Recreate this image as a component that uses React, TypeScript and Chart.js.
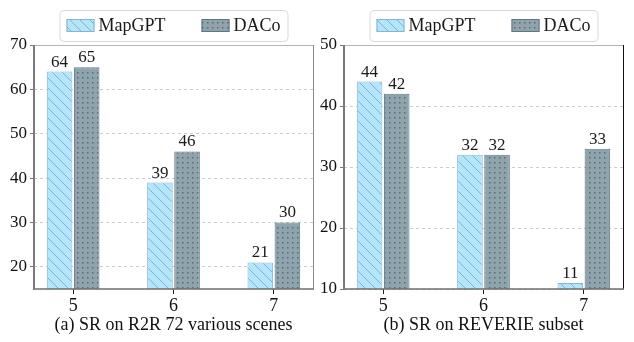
import React, { useEffect, useRef } from 'react';
import { Chart, registerables } from 'chart.js';

Chart.register(...registerables);

// ---- Data ----
const categories = [5, 6, 7];
const seriesNames = ['MapGPT', 'DACo'];
const r2rMapGPT = [64, 39, 21];
const r2rDACo = [65, 46, 30];
const reverieMapGPT = [44, 32, 11];
const reverieDACo = [42, 32, 33];
const r2rYTicks = [20, 30, 40, 50, 60, 70];
const reverieYTicks = [10, 20, 30, 40, 50];
const r2rRange = [15, 70];
const reverieRange = [10, 50];
const captions = ['(a) SR on R2R 72 various scenes', '(b) SR on REVERIE subset'];

const FONT = "'Liberation Serif', 'Times New Roman', serif";
const W = 317;
const H = 342;

function makeHatch(): CanvasPattern | string {
  const c = document.createElement('canvas');
  c.width = 10;
  c.height = 10;
  const g = c.getContext('2d');
  if (!g) return '#b3e5fc';
  g.fillStyle = '#b3e5fc';
  g.fillRect(0, 0, 10, 10);
  g.strokeStyle = '#82b2c8';
  g.lineWidth = 1;
  g.beginPath();
  g.moveTo(-2, -2);
  g.lineTo(12, 12);
  g.moveTo(-2, 8);
  g.lineTo(2, 12);
  g.moveTo(8, -2);
  g.lineTo(12, 2);
  g.stroke();
  return g.createPattern(c, 'repeat') || '#b3e5fc';
}

function makeDots(): CanvasPattern | string {
  const c = document.createElement('canvas');
  c.width = 5;
  c.height = 5;
  const g = c.getContext('2d');
  if (!g) return '#8fa3ad';
  g.fillStyle = '#8fa3ad';
  g.fillRect(0, 0, 5, 5);
  g.fillStyle = '#576c7c';
  g.fillRect(2, 2, 1.5, 1.5);
  return g.createPattern(c, 'repeat') || '#8fa3ad';
}

interface PanelProps {
  a: number[];
  b: number[];
  yTicks: number[];
  range: number[];
  caption: string;
  yWidth: number;
  padRight: number;
  rightBorder: string;
}

function Panel(p: PanelProps) {
  const ref = useRef<HTMLCanvasElement | null>(null);
  useEffect(() => {
    if (!ref.current) return;
    const hatch = makeHatch();
    const dots = makeDots();
    const fills = [hatch, dots];
    const borders = ['#86b6cc', '#5e7785'];

    const framePlugin = {
      id: 'frame',
      afterDatasetsDraw(chart: any) {
        const { ctx, chartArea: ca } = chart;
        ctx.save();
        ctx.setLineDash([]);
        ctx.lineWidth = 1;
        ctx.strokeStyle = '#b5b5b5';
        ctx.beginPath();
        ctx.moveTo(ca.left, ca.top + 0.5);
        ctx.lineTo(ca.right, ca.top + 0.5);
        ctx.stroke();
        ctx.strokeStyle = p.rightBorder;
        ctx.beginPath();
        ctx.moveTo(ca.right + 0.5, ca.top);
        ctx.lineTo(ca.right + 0.5, ca.bottom);
        ctx.stroke();
        ctx.strokeStyle = '#6e6e6e';
        ctx.lineWidth = 1.5;
        ctx.beginPath();
        ctx.moveTo(ca.left, ca.bottom);
        ctx.lineTo(ca.right + 1, ca.bottom);
        ctx.stroke();
        ctx.strokeStyle = '#7a7a7a';
        ctx.lineWidth = 2;
        ctx.beginPath();
        ctx.moveTo(ca.left, ca.top);
        ctx.lineTo(ca.left, ca.bottom + 1);
        ctx.stroke();
        ctx.restore();
      },
    };

    const labelPlugin = {
      id: 'valueLabels',
      afterDatasetsDraw(chart: any) {
        const { ctx } = chart;
        ctx.save();
        ctx.font = `17px ${FONT}`;
        ctx.fillStyle = '#1a1a1a';
        ctx.textAlign = 'center';
        ctx.textBaseline = 'alphabetic';
        chart.data.datasets.forEach((ds: any, i: number) => {
          const meta = chart.getDatasetMeta(i);
          meta.data.forEach((el: any, j: number) => {
            const v = ds.data[j].y;
            ctx.fillText(String(v), el.x, el.y - 5);
          });
        });
        ctx.restore();
      },
    };

    const legendPlugin = {
      id: 'boxLegend',
      afterDraw(chart: any) {
        const { ctx, chartArea: ca } = chart;
        ctx.save();
        ctx.font = `18px ${FONT}`;
        const sw = 28;
        const sh = 13;
        const tGap = 4;
        const itemGap = 36;
        const pad = 7;
        const widths = seriesNames.map((n) => ctx.measureText(n).width);
        const content = widths.reduce((s, w) => s + sw + tGap + w, 0) + itemGap * (seriesNames.length - 1);
        const boxW = content + pad * 2;
        const boxH = 31;
        const cx = (ca.left + ca.right) / 2;
        const bx = cx - boxW / 2;
        const by = 10;
        ctx.beginPath();
        ctx.roundRect(bx + 0.5, by + 0.5, boxW, boxH, 4);
        ctx.fillStyle = '#ffffff';
        ctx.fill();
        ctx.strokeStyle = '#d9d9d9';
        ctx.lineWidth = 1;
        ctx.stroke();
        let x = bx + pad;
        const cy = by + boxH / 2;
        seriesNames.forEach((n, i) => {
          ctx.fillStyle = fills[i];
          ctx.fillRect(x, cy - sh / 2, sw, sh);
          ctx.strokeStyle = borders[i];
          ctx.lineWidth = 1;
          ctx.strokeRect(x + 0.5, cy - sh / 2 + 0.5, sw - 1, sh - 1);
          ctx.fillStyle = '#1a1a1a';
          ctx.textAlign = 'left';
          ctx.textBaseline = 'middle';
          ctx.fillText(n, x + sw + tGap, cy + 1);
          x += sw + tGap + widths[i] + itemGap;
        });
        ctx.restore();
      },
    };

    const chart = new Chart(ref.current, {
      type: 'bar',
      data: {
        datasets: [p.a, p.b].map((vals, i) => ({
          label: seriesNames[i],
          data: categories.map((c, j) => ({ x: c, y: vals[j] })),
          backgroundColor: fills[i] as any,
          borderColor: borders[i],
          borderWidth: 1,
          categoryPercentage: 0.54,
          barPercentage: 0.944,
        })),
      },
      options: {
        responsive: false,
        animation: false,
        layout: { padding: { top: 45, right: p.padRight, bottom: 0, left: 0 } },
        plugins: {
          legend: { display: false },
          tooltip: { enabled: false },
        },
        scales: {
          x: {
            type: 'linear',
            offset: false,
            min: categories[0] - 0.39,
            max: categories[categories.length - 1] + 0.39,
            afterBuildTicks: (s: any) => {
              s.ticks = categories.map((v) => ({ value: v }));
            },
            afterFit: (s: any) => {
              s.height = H - 289;
            },
            grid: {
              offset: false,
              drawOnChartArea: false,
              drawTicks: true,
              tickLength: 5,
              tickColor: '#222',
              tickWidth: 1,
            },
            border: { display: false },
            ticks: {
              color: '#111',
              font: { family: FONT, size: 18 },
              padding: 1,
              callback: (v: any) => String(v),
            },
            title: {
              display: true,
              text: p.caption,
              color: '#111',
              font: { family: FONT, size: 18 },
              padding: { top: 0, bottom: 6 },
            },
          },
          y: {
            type: 'linear',
            min: p.range[0],
            max: p.range[1],
            afterBuildTicks: (s: any) => {
              s.ticks = p.yTicks.map((v) => ({ value: v }));
            },
            afterFit: (s: any) => {
              s.width = p.yWidth;
            },
            grid: {
              color: '#cccccc',
              tickColor: '#777',
              tickLength: 4,
              lineWidth: 1,
            },
            border: { display: false, dash: [3, 3] },
            ticks: {
              color: '#111',
              font: { family: FONT, size: 17 },
              padding: 3,
            },
          },
        },
      },
      plugins: [framePlugin, labelPlugin, legendPlugin],
    } as any);
    return () => chart.destroy();
  }, []);
  return <canvas ref={ref} width={W} height={H} style={{ display: 'block', width: W, height: H }} />;
}

export default function App() {
  return (
    <div style={{ position: 'absolute', left: 0, top: 0, width: 634, height: 342, display: 'flex', background: '#fff' }}>
      <Panel a={r2rMapGPT} b={r2rDACo} yTicks={r2rYTicks} range={r2rRange} caption={captions[0]} yWidth={34} padRight={4} rightBorder="#8a8a8a" />
      <Panel a={reverieMapGPT} b={reverieDACo} yTicks={reverieYTicks} range={reverieRange} caption={captions[1]} yWidth={27} padRight={11} rightBorder="#111111" />
    </div>
  );
}
